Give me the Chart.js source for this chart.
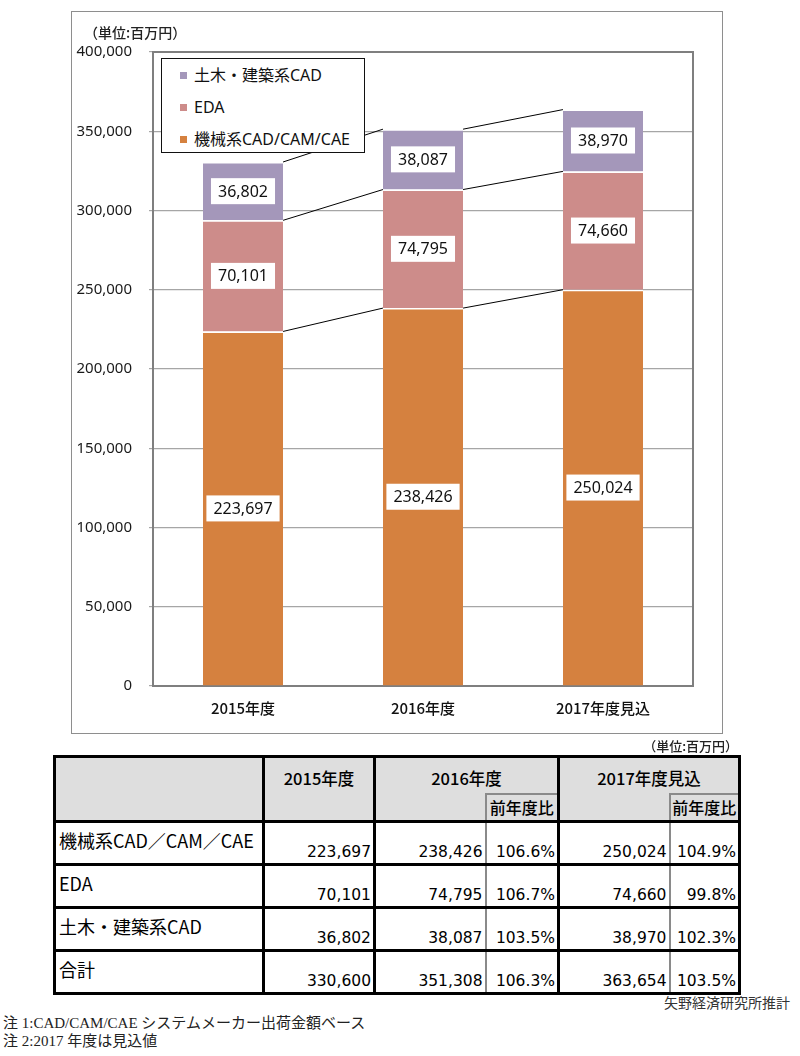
<!DOCTYPE html>
<html lang="ja">
<head>
<meta charset="utf-8">
<title>CAD/CAM/CAE 市場規模推移</title>
<script src="https://cdn.jsdelivr.net/npm/chart.js@4.4.1/dist/chart.umd.min.js"></script>
<style>
  body { margin: 0; width: 800px; height: 1056px; position: relative; background: #fff; color: #000;
         font-family: "Noto Sans CJK JP", sans-serif; overflow: hidden; }
  #chartBox { position: absolute; left: 71px; top: 11px; width: 650px; height: 721px; border: 1.5px solid #8e8e8e; }
  #chartWrap { position: absolute; left: 0; top: 0; width: 800px; height: 740px; }
  #unitChart { position: absolute; left: 84px; top: 22px; font-size: 14px; font-weight: 500; color: #222; }
  #legend { position: absolute; left: 161px; top: 58px; width: 202px; height: 93px; border: 1.5px solid #111;
            background: #fff; font-family: "Noto Sans", "Noto Sans CJK JP", sans-serif; font-size: 16px; color: #111; }
  #legend div { position: absolute; left: 18px; height: 20px; line-height: 20px; white-space: nowrap; }
  #legend span { display: inline-block; width: 7px; height: 7px; margin-right: 7px; vertical-align: 2px; }
  #unitTable { position: absolute; right: 62px; top: 736px; font-size: 13px; font-weight: 500; color: #222; }
  #tbl { position: absolute; left: 53px; top: 755px; border-collapse: collapse; table-layout: fixed; width: 685px; }
  #tbl td { border: 3px solid #000; padding: 0; }
  #tbl .hd { background: #dedede; text-align: center; font-size: 16.5px; font-weight: 500; }
  #tbl .yr { vertical-align: top; padding-top: 8px; }
  #tbl .sub { vertical-align: middle; font-size: 16px; }
  #tbl .lbl { font-size: 18px; vertical-align: middle; padding: 0 0 6px 3px; white-space: nowrap; }
  #tbl .num { font-family: "DejaVu Sans", "Noto Sans CJK JP", sans-serif; font-size: 15.5px; text-align: right;
              vertical-align: bottom; padding: 0 2px 2px 0; }
  #tbl .gl { border-left: 2px solid #8a8a8a; }
  #tbl .gr { border-right: 2px solid #8a8a8a; }
  #tbl .gt { border-top: 2px solid #8a8a8a; }
  #tbl .nt { border-top: none; }
  #tbl .nb { border-bottom: none; }
  #source { position: absolute; right: 10px; top: 992px; font-size: 14px; color: #333; }
  .note { position: absolute; left: 3px; font-family: "Liberation Serif", "Noto Sans CJK JP", serif; font-size: 15px; color: #222; }
</style>
</head>
<body>
<div id="chartBox"></div>
<div id="chartWrap"><canvas id="cadChart"></canvas></div>
<div id="unitChart">（単位:百万円）</div>
<div id="legend"></div>
<div id="unitTable">（単位:百万円）</div>
<table id="tbl"></table>
<div id="source">矢野経済研究所推計</div>
<div class="note" style="top:1011px">注 1:CAD/CAM/CAE システムメーカー出荷金額ベース</div>
<div class="note" style="top:1029px">注 2:2017 年度は見込値</div>
<script>
const years = ['2015年度', '2016年度', '2017年度見込'];
const seriesNames = ['機械系CAD/CAM/CAE', 'EDA', '土木・建築系CAD'];
const seriesColors = ['#d5813f', '#cd8c8a', '#a497ba'];
const mechValues = [223697, 238426, 250024];
const edaValues = [70101, 74795, 74660];
const civilValues = [36802, 38087, 38970];
const totalValues = [330600, 351308, 363654];
const tableLabels = ['機械系CAD／CAM／CAE', 'EDA', '土木・建築系CAD', '合計'];
const ratio2016 = ['106.6%', '106.7%', '103.5%', '106.3%'];
const ratio2017 = ['104.9%', '99.8%', '102.3%', '103.5%'];

const fmt = v => v.toLocaleString('en-US');

// top/right frame of the plot area
const frame = {
  id: 'frame',
  beforeDatasetsDraw(chart) {
    const { ctx, chartArea: a } = chart;
    ctx.save();
    ctx.strokeStyle = '#7f7f7f';
    ctx.lineWidth = 2;
    ctx.beginPath();
    ctx.moveTo(a.left, a.top);
    ctx.lineTo(a.right, a.top);
    ctx.lineTo(a.right, a.bottom);
    ctx.stroke();
    ctx.restore();
  }
};

// lines joining the top of each segment to the next bar
const seriesLines = {
  id: 'seriesLines',
  afterDatasetsDraw(chart) {
    const { ctx } = chart;
    ctx.save();
    ctx.strokeStyle = '#000';
    ctx.lineWidth = 1;
    chart.data.datasets.forEach((ds, i) => {
      const bars = chart.getDatasetMeta(i).data;
      for (let j = 0; j < bars.length - 1; j++) {
        const a = bars[j], b = bars[j + 1];
        ctx.beginPath();
        ctx.moveTo(a.x + a.width / 2, a.y);
        ctx.lineTo(b.x - b.width / 2, b.y);
        ctx.stroke();
      }
    });
    ctx.restore();
  }
};

// white value boxes in the middle of each segment
const valueBoxes = {
  id: 'valueBoxes',
  afterDatasetsDraw(chart) {
    const { ctx } = chart;
    ctx.save();
    ctx.font = '16px "Noto Sans"';
    ctx.textAlign = 'center';
    ctx.textBaseline = 'middle';
    chart.data.datasets.forEach((ds, i) => {
      chart.getDatasetMeta(i).data.forEach((bar, j) => {
        const text = fmt(ds.data[j]);
        const cy = (bar.y + bar.base) / 2;
        const w = ctx.measureText(text).width + 14, h = 26;
        ctx.fillStyle = '#fff';
        ctx.fillRect(bar.x - w / 2, cy - h / 2, w, h);
        ctx.fillStyle = '#111';
        ctx.fillText(text, bar.x, cy + 1);
      });
    });
    ctx.restore();
  }
};

const ctx = document.getElementById('cadChart').getContext('2d');
const cadChart = new Chart(ctx, {
  type: 'bar',
  data: {
    labels: years,
    datasets: [mechValues, edaValues, civilValues].map((values, i) => ({
      label: seriesNames[i],
      data: values,
      backgroundColor: seriesColors[i],
      borderColor: '#fff',
      borderWidth: { top: 1.5, left: 0, right: 0, bottom: 0 },
      borderSkipped: false,
      barPercentage: 0.445,
      categoryPercentage: 1
    }))
  },
  options: {
    responsive: true,
    maintainAspectRatio: false,
    animation: false,
    layout: { padding: { left: 0, right: 107, top: 52, bottom: 14 } },
    plugins: { legend: { display: false }, tooltip: { enabled: false } },
    scales: {
      x: {
        stacked: true,
        afterFit: s => { s.height = 40; },
        grid: { drawOnChartArea: false, drawTicks: false },
        border: { color: '#7f7f7f', width: 2 },
        ticks: { padding: 13, color: '#111', font: { family: 'Noto Sans CJK JP', size: 15, weight: '500' } }
      },
      y: {
        stacked: true,
        min: 0,
        max: 400000,
        afterFit: s => { s.width = 153; },
        grid: { color: '#a6a6a6', lineWidth: 1.2, tickLength: 4 },
        border: { color: '#7f7f7f', width: 2 },
        ticks: { stepSize: 50000, padding: 17, color: '#1a1a1a', callback: v => fmt(v),
                 font: { family: 'Noto Sans', size: 15 } }
      }
    }
  },
  plugins: [frame, seriesLines, valueBoxes]
});

// legend (reverse order, like the stacked bars)
const legend = document.getElementById('legend');
[2, 1, 0].forEach((i, k) => {
  const row = document.createElement('div');
  row.style.top = (6 + k * 32) + 'px';
  row.innerHTML = '<span style="background:' + seriesColors[i] + '"></span>' + seriesNames[i];
  legend.appendChild(row);
});

// table
const cols = [209, 111, 111, 73, 111, 70];
let html = '<colgroup>' + cols.map(w => '<col style="width:' + w + 'px">').join('') + '</colgroup>';
html += '<tr style="height:37px"><td class="hd" rowspan="2"></td><td class="hd yr" rowspan="2">' + years[0] + '</td>' +
        '<td class="hd yr nb" colspan="2">' + years[1] + '</td><td class="hd yr nb" colspan="2">' + years[2] + '</td></tr>';
html += '<tr style="height:28px"><td class="hd nt gr"></td><td class="hd sub gl gt">前年度比</td>' +
        '<td class="hd nt gr"></td><td class="hd sub gl gt">前年度比</td></tr>';
const rows = [mechValues, edaValues, civilValues, totalValues];
rows.forEach((vals, r) => {
  html += '<tr style="height:43px"><td class="lbl">' + tableLabels[r] + '</td>' +
          '<td class="num">' + fmt(vals[0]) + '</td>' +
          '<td class="num gr">' + fmt(vals[1]) + '</td><td class="num gl">' + ratio2016[r] + '</td>' +
          '<td class="num gr">' + fmt(vals[2]) + '</td><td class="num gl">' + ratio2017[r] + '</td></tr>';
});
document.getElementById('tbl').innerHTML = html;
</script>
</body>
</html>
